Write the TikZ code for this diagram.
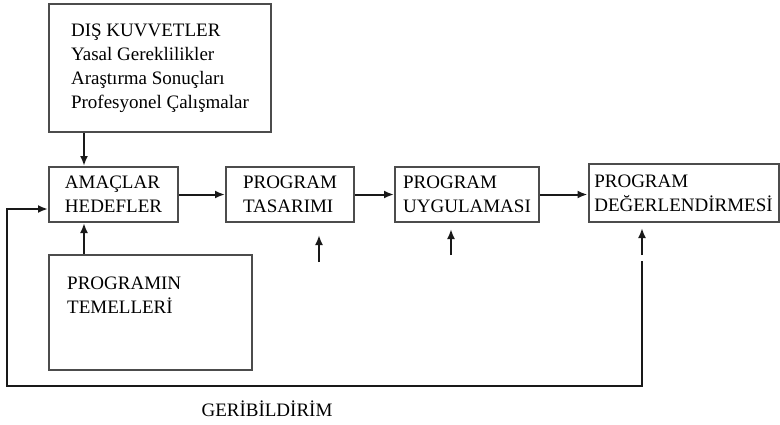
\documentclass[tikz,border=0pt]{standalone}
\usepackage{fontspec}
\setmainfont{Liberation Serif}
\usetikzlibrary{positioning,calc,arrows.meta}

\begin{document}
\begin{tikzpicture}
                    [x=1pt,y=-1pt,>={Latex[length=10pt,width=8pt]},
                     kutu/.style={draw=black!70,line width=2pt,align=left,inner sep=0pt,font=\fontsize{19}{24}\selectfont},
                     yazi/.style={align=left,inner sep=0pt,font=\fontsize{19}{24}\selectfont},
                     ok/.style={->,line width=2pt,black!90}]

                        \useasboundingbox (0,0) rectangle (780,424);

                        % kutular
                        \node[kutu,minimum width=222pt,minimum height=128pt] (dis) at (160,68)
                            {DIŞ KUVVETLER\\Yasal Gereklilikler\\Araştırma Sonuçları\\Profesyonel Çalışmalar};
                        \node[kutu,minimum width=129pt,minimum height=55pt] (amac) at (113.5,194.5) {AMAÇLAR\\HEDEFLER};
                        \node[kutu,minimum width=128pt,minimum height=55pt] (tasarim) at (290,194.5) {PROGRAM\\TASARIMI};
                        \node[kutu,minimum width=144pt,minimum height=55pt] (uyg) at (467,194.5) {PROGRAM\\UYGULAMASI};
                        \node[kutu,minimum width=190pt,minimum height=58pt] (deg) at (683.5,193) {PROGRAM\\DEĞERLENDİRMESİ};
                        \node[kutu,minimum width=203pt,minimum height=115pt] (temel) at (150.5,312.5) {};
                        \node[yazi,anchor=north west] (temelyazi) at ($(temel.north west)+(19,23)$) {PROGRAMIN\\TEMELLERİ};
                        \node[yazi] (geri) at (267,409) {GERİBİLDİRİM};

                        % oklar
                        \coordinate (ax) at (84,0);
                        \draw[ok] (dis.south -| ax) -- (amac.north -| ax);
                        \draw[ok] (temel.north -| ax) -- (amac.south -| ax);
                        \draw[ok] (amac.east) -- (tasarim.west);
                        \draw[ok] (tasarim.east) -- (uyg.west);
                        \draw[ok] (uyg.east) -- (uyg.east -| deg.west);

                        \coordinate (t1) at (319,262);
                        \coordinate (t2) at (319,235);
                        \coordinate (u1) at (451,255);
                        \coordinate (u2) at (451,229);
                        \coordinate (d1) at (642,255);
                        \coordinate (d2) at (642,228);
                        \draw[ok] (t1) -- (t2);
                        \draw[ok] (u1) -- (u2);
                        \draw[ok] (d1) -- (d2);

                        % geribildirim
                        \coordinate (fb) at (642,261);
                        \coordinate (fbsol) at (7,386);
                        \draw[ok] (fb) |- (fbsol) |- ([yshift=-14.5pt]amac.west);

                \end{tikzpicture}
\end{document}
